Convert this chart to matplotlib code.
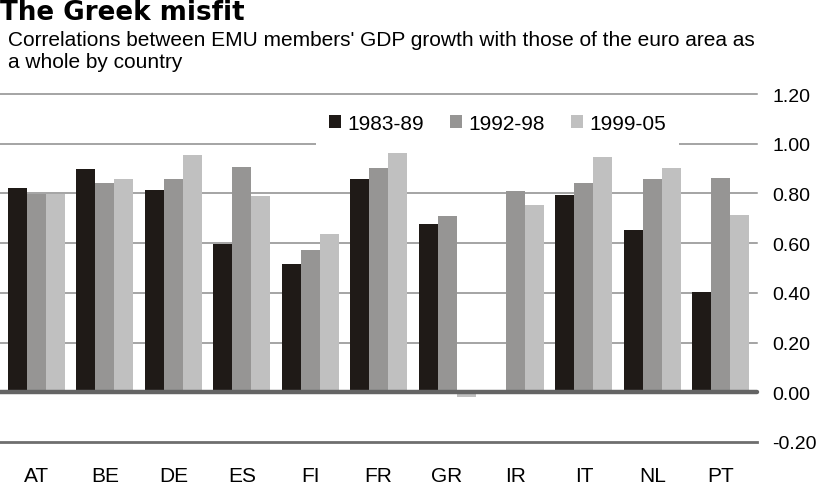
import matplotlib
matplotlib.use("Agg")
import matplotlib.pyplot as plt
import numpy as np

plt.rcParams['font.family'] = ['Liberation Sans', 'DejaVu Sans']

countries = ["AT", "BE", "DE", "ES", "FI", "FR", "GR", "IR", "IT", "NL", "PT"]
s1983 = [0.82, 0.90, 0.815, 0.595, 0.515, 0.86, 0.678, np.nan, 0.792, 0.653, 0.404]
s1992 = [0.797, 0.84, 0.86, 0.905, 0.574, 0.903, 0.709, 0.808, 0.84, 0.86, 0.863]
s1999 = [0.797, 0.86, 0.953, 0.79, 0.638, 0.962, -0.02, 0.752, 0.946, 0.903, 0.712]
series_labels = ["1983-89", "1992-98", "1999-05"]
yticks = [-0.2, 0.0, 0.2, 0.4, 0.6, 0.8, 1.0, 1.2]
title = "The Greek misfit"
subtitle = "Correlations between EMU members' GDP growth with those of the euro area as\na whole by country"

colors = ["#1f1a17", "#969594", "#c0c0c0"]

W, H = 821, 485
fig = plt.figure(figsize=(W / 100, H / 100), dpi=100)
ax = fig.add_axes([0.0, 1 - 443 / H, 757 / W, (443 - 95) / H])

x = np.arange(len(countries))
bw = 0.278
for k, (vals, lab) in enumerate(zip([s1983, s1992, s1999], series_labels)):
    ax.bar(x + (k - 1) * bw, vals, width=bw, color=colors[k], label=lab, zorder=3, linewidth=0)

for t in yticks:
    if t == 0.0:
        ax.axhline(t, color="#646464", lw=3.2, zorder=5, clip_on=False, solid_capstyle="round")
    elif t == -0.2:
        ax.axhline(t, color="#6e6e6e", lw=2.0, zorder=2, clip_on=False)
    else:
        ax.axhline(t, color="#8c8c8c", lw=1.1, zorder=2, clip_on=False)

ax.set_xlim(-0.534, 10.53)
ax.set_ylim(-0.2, 1.2)
for s in ax.spines.values():
    s.set_visible(False)
ax.yaxis.tick_right()
ax.set_yticks(yticks)
ax.set_yticklabels([f"{v:.2f}" for v in yticks], fontsize=14)
ax.tick_params(axis="y", length=0, pad=11)
ax.set_xticks(x)
ax.set_xticklabels(countries, fontsize=15)
ax.tick_params(axis="x", length=0, pad=17)

leg = ax.legend(loc="center left", bbox_to_anchor=(316 / 757, 1 - (124 - 95) / (443 - 95)),
                ncol=3, frameon=True, fancybox=False, fontsize=15, handlelength=0.6,
                handleheight=0.6, handletextpad=0.29, columnspacing=1.25, borderpad=0.6,
                borderaxespad=0)
leg.get_frame().set_facecolor("white")
leg.get_frame().set_edgecolor("none")
leg.get_frame().set_alpha(1)
leg.set_zorder(6)

fig.text(0.0, 1 - 0 / H, title, fontsize=18.8, fontweight="heavy", family="DejaVu Sans",
         va="top", ha="left")
fig.text(8 / W, 1 - 31 / H, subtitle, fontsize=15, va="top", ha="left", linespacing=1.22)

fig.savefig("out.png", dpi=100)
